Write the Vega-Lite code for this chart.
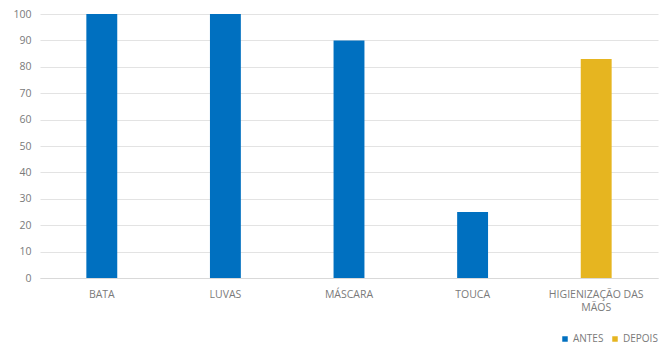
{
  "$schema": "https://vega.github.io/schema/vega-lite/v6.json",
  "width": 618,
  "height": 264,
  "padding": {"left": 40, "top": 14, "right": 4, "bottom": 74},
  "autosize": {"type": "none"},
  "background": "white",
  "data": {
    "values": [
      {"item": "BATA", "valor": 100, "serie": "ANTES"},
      {"item": "LUVAS", "valor": 100, "serie": "ANTES"},
      {"item": "MÁSCARA", "valor": 90, "serie": "ANTES"},
      {"item": "TOUCA", "valor": 25, "serie": "ANTES"},
      {"item": "HIGIENIZAÇÃO DAS MÃOS", "valor": 83, "serie": "DEPOIS"}
    ]
  },
  "config": {
    "view": {"stroke": null},
    "font": "Open Sans"
  },
  "mark": {"type": "bar"},
  "encoding": {
    "x": {
      "field": "item",
      "type": "nominal",
      "sort": null,
      "scale": {"paddingInner": 0.75, "paddingOuter": 0.375},
      "axis": {
        "title": null,
        "labelAngle": 0,
        "labelFontSize": 10.5,
        "labelColor": "#7a7a7a",
        "labelPadding": 11,
        "labelLineHeight": 13,
        "labelOverlap": false,
        "ticks": false,
        "domainColor": "#d9d9d9",
        "labelExpr": "datum.value == 'HIGIENIZAÇÃO DAS MÃOS' ? ['HIGIENIZAÇÃO DAS', 'MÃOS'] : datum.value"
      }
    },
    "y": {
      "field": "valor",
      "type": "quantitative",
      "scale": {"domain": [0, 100]},
      "axis": {
        "title": null,
        "values": [0, 10, 20, 30, 40, 50, 60, 70, 80, 90, 100],
        "labelOverlap": false,
        "labelFontSize": 10.5,
        "labelColor": "#7a7a7a",
        "labelPadding": 9,
        "ticks": false,
        "domain": false,
        "gridColor": "#e3e3e3"
      }
    },
    "color": {
      "field": "serie",
      "type": "nominal",
      "scale": {"domain": ["ANTES", "DEPOIS"], "range": ["#0070C0", "#E6B520"]},
      "legend": {
        "title": null,
        "orient": "none",
        "legendX": 520,
        "legendY": 320,
        "direction": "horizontal",
        "symbolType": "square",
        "symbolSize": 30,
        "labelFontSize": 10,
        "labelColor": "#7a7a7a",
        "columnPadding": 6,
        "labelOffset": 3,
        "padding": 0,
        "symbolOffset": 0
      }
    }
  }
}
